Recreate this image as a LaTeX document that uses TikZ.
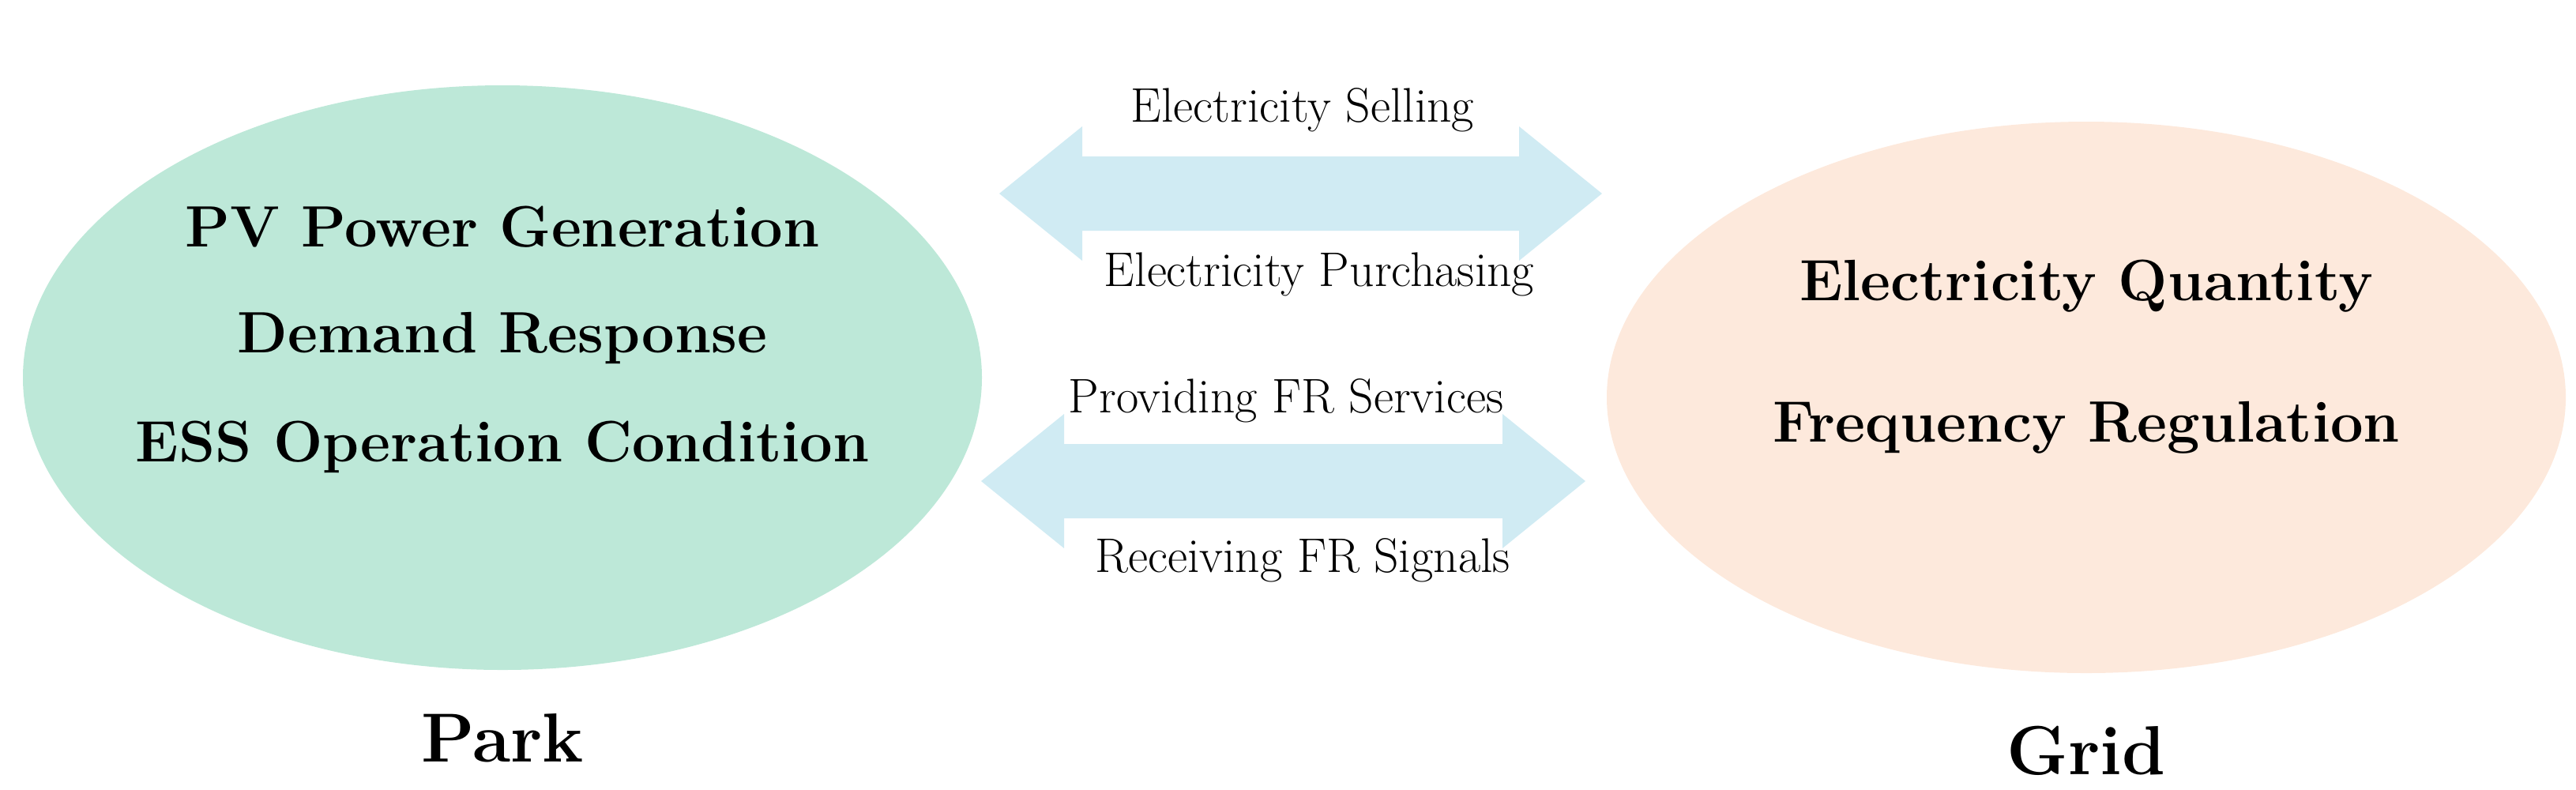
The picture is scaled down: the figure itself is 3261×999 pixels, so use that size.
\documentclass[tikz,border=0pt]{standalone}
\begin{document}
\begin{tikzpicture}[x=0.01cm,y=-0.01cm,
  big/.style={font=\fontsize{21}{25}\selectfont\bfseries},
  small/.style={font=\fontsize{17.5}{20}\selectfont},
  title/.style={font=\fontsize{25}{30}\selectfont\bfseries},
  dbl/.style={fill=arrowblue,draw=none}]
\definecolor{parkgreen}{HTML}{BDE8D8}
\definecolor{gridorange}{HTML}{FDE9DC}
\definecolor{arrowblue}{HTML}{D0EBF3}
\useasboundingbox (0,0) rectangle (3261,999);
\fill[parkgreen] (636,478) ellipse [x radius=607,y radius=370];
\fill[gridorange] (2641,503) ellipse [x radius=607,y radius=349];
% top double arrow
\fill[dbl] (1265,245) -- (1370,160) -- (1370,198) -- (1923,198) -- (1923,160) -- (2028,245)
  -- (1923,330) -- (1923,292) -- (1370,292) -- (1370,330) -- cycle;
% bottom double arrow
\fill[dbl] (1242,609) -- (1347,524) -- (1347,562) -- (1902,562) -- (1902,524) -- (2007,609)
  -- (1902,694) -- (1902,656) -- (1347,656) -- (1347,694) -- cycle;
\node[small] (sell) at (1649,139) {Electricity Selling};
\node[small] (buy) at (1670,347) {Electricity Purchasing};
\node[small] (prov) at (1628,507) {Providing FR Services};
\node[small] (recv) at (1649,709) {Receiving FR Signals};
\node[big] (pv) at (636,287) {PV Power Generation};
\node[big] (dr) at (636,428) {Demand Response};
\node[big] (ess) at (636,566) {ESS Operation Condition};
\node[big] (eq) at (2641,362) {Electricity Quantity};
\node[big] (fr) at (2641,541) {Frequency Regulation};
\node[title] (park) at (636,934) {Park};
\node[title] (grid) at (2641,950) {Grid};
\end{tikzpicture}
\end{document}
